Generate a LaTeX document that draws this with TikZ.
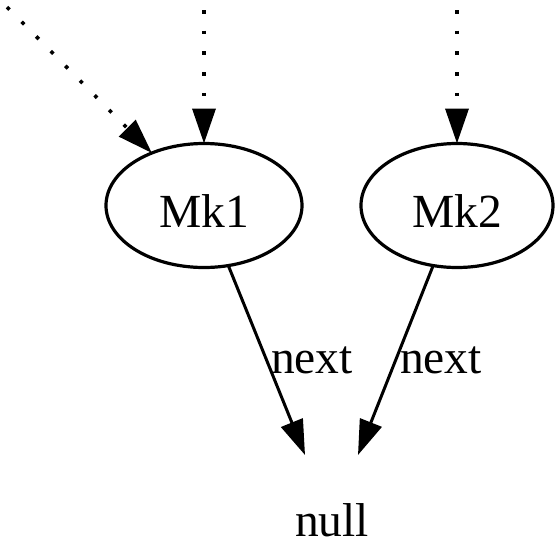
\documentclass[tikz,border=0pt]{standalone}
\usepackage{fontspec}
\setmainfont{Liberation Serif}
\usepackage{tikz}
\usetikzlibrary{arrows.meta,shapes.geometric}
\tikzstyle{record}=[
        draw,
        ellipse,
        line width=3.2pt,
        minimum width=196pt,
        minimum height=124pt,
        outer sep=0pt,
        text height=43pt,
        text depth=0pt
]
\tikzstyle{link}=[
        line width=3pt,
        -{Triangle[length=35pt,width=23pt]}
]
\tikzstyle{ref}=[
        link,
        line width=3.6pt,
        dash pattern=on 3.6pt off 17.1pt,
        dash phase=10.7pt
]

\begin{document}
\begin{tikzpicture}[x=1pt,y=-1pt,font=\fontsize{47.5pt}{57pt}\selectfont]
                        \useasboundingbox (0,0) rectangle (555,544);

                        \node[record] (mk1) at (204,205.5) {Mk1};
                        \node[record,minimum width=192pt] (mk2) at (457,205.5) {Mk2};
                        \node[minimum width=187pt,minimum height=88pt,inner sep=0pt,outer sep=0pt,
                              text height=74pt,text depth=0pt] (null) at (332,499) {null};

                        \coordinate (in0) at (0,0);
                        \coordinate (in1) at (204,0);
                        \coordinate (in2) at (457,0);

                        \draw[ref] (in0) -- (mk1);
                        \draw[ref] (in1) -- (mk1);
                        \draw[ref] (in2) -- (mk2);

                        \draw[link] (mk1) -- node[right,inner sep=3pt] {next} ([xshift=-27pt]null.north);
                        \draw[link] (mk2) -- node[right,inner sep=3pt] {next} ([xshift=26pt]null.north);

                    \end{tikzpicture}
\end{document}
